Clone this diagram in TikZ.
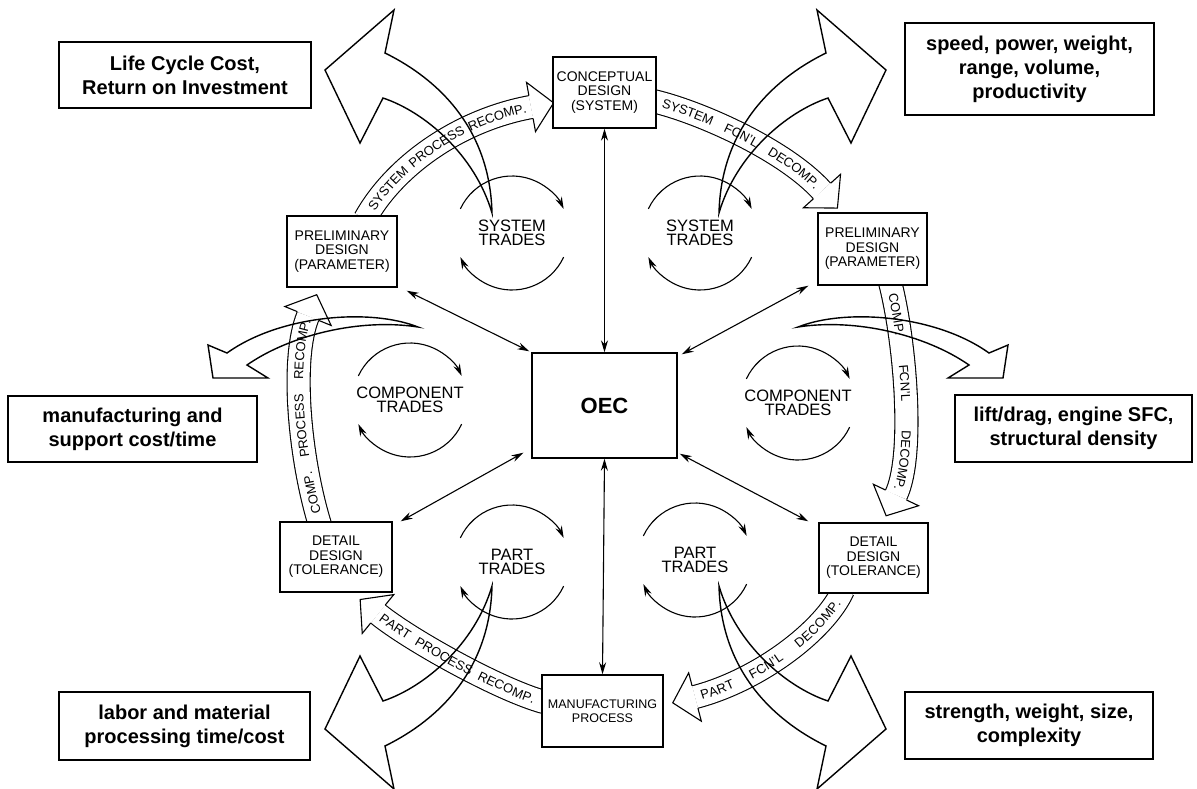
\documentclass[tikz,border=0pt]{standalone}
\usepackage{fontspec}
\setmainfont{Liberation Sans}
\usetikzlibrary{arrows.meta,decorations.markings,decorations.text}
\newcommand\bandfont{\fontsize{13}{13}\selectfont}
% fat curved arrow from the upper left trade circle to its result box
\newcommand\cornerswoosh{%
  \draw[swoosh] (492,213) .. controls (490,130) and (440,80) .. (385,53)
    -- (394,10) -- (325,70) -- (360,143) -- (383,98)
    .. controls (425,112) and (475,155) .. (492,213) -- cycle;}
% fat curved arrow from the left component circle to its result box
\newcommand\sideswoosh{%
  \draw[swoosh] (418,327) .. controls (370,308) and (280,315) .. (227,353)
    -- (208,345) -- (213,378) -- (268,378) -- (247,365)
    .. controls (290,335) and (360,318) .. (418,327) -- cycle;}
\begin{document}
\begin{tikzpicture}[x=1pt, y=-1pt,
  outerbox/.style={draw, line width=1.4pt, fill=white, align=center, inner sep=0pt,
     font=\fontsize{20}{24}\selectfont\bfseries},
  procbox/.style={draw, line width=1.4pt, fill=white, align=center, inner sep=0pt,
     font=\fontsize{14}{14.5}\selectfont},
  tradelabel/.style={align=center, inner sep=0pt, font=\fontsize{16.5}{14}\selectfont},
  link/.style={{Stealth[length=12pt,width=7pt]}-{Stealth[length=12pt,width=7pt]}, line width=1.1pt},
  tradearc/.style={-{Stealth[length=12pt,width=7pt]}, line width=1.1pt},
  band/.style={line width=1.1pt, double=white, double distance=22pt},
  bandhead/.style={decorate, decoration={markings, mark=at position 1 with {
      \draw[line width=1.1pt, line join=miter, fill=white]
        (0pt,11.55pt) -- (0pt,25pt) -- (23pt,0pt) -- (0pt,-25pt) -- (0pt,-11.55pt);}}},
  bandtext/.style n args={3}{decorate, decoration={text along path, text={|\bandfont|#1},
      text align={fit to path stretching spaces, left indent=#2, right indent=#3},
      raise=-4.6pt}},
  swoosh/.style={line width=1.4pt, line join=miter},
]
\useasboundingbox (0,0) rectangle (1197,788);

% ---- band end points and controls ----
\coordinate (b1s) at (365,219); \coordinate (b1a) at (395,165); \coordinate (b1b) at (460,120); \coordinate (b1e) at (531,107);
\coordinate (b2s) at (653,101); \coordinate (b2a) at (700,112); \coordinate (b2b) at (785,150); \coordinate (b2e) at (822,191);
\coordinate (b3s) at (890,282); \coordinate (b3a) at (905,340); \coordinate (b3b) at (915,455); \coordinate (b3e) at (896,495);
\coordinate (b4s) at (843,590); \coordinate (b4a) at (825,630); \coordinate (b4b) at (760,680); \coordinate (b4e) at (695,697);
\coordinate (b5s) at (544,702); \coordinate (b5a) at (500,690); \coordinate (b5b) at (410,640); \coordinate (b5e) at (378,614);
\coordinate (b6s) at (320,525); \coordinate (b6a) at (300,460); \coordinate (b6b) at (290,360); \coordinate (b6e) at (308,316);

% ---- hollow process bands ----
\foreach \b in {b1,b2,b3,b4,b5,b6} {
  \draw[band] (\b s) .. controls (\b a) and (\b b) .. (\b e);
  \path[bandhead] (\b s) .. controls (\b a) and (\b b) .. (\b e);
}
\path[bandtext={SYSTEM PROCESS RECOMP.}{12pt}{5pt}] (b1s) .. controls (b1a) and (b1b) .. (b1e);
\path[bandtext={SYSTEM FCN'L DECOMP.}{10pt}{6pt}] (b2s) .. controls (b2a) and (b2b) .. (b2e);
\path[bandtext={COMP. FCN'L DECOMP.}{12pt}{5pt}] (b3s) .. controls (b3a) and (b3b) .. (b3e);
\path[bandtext={PART FCN'L DECOMP.}{6pt}{12pt}] (b4e) .. controls (b4b) and (b4a) .. (b4s);
\path[bandtext={PART PROCESS RECOMP.}{4pt}{10pt}] (b5e) .. controls (b5b) and (b5a) .. (b5s);
\path[bandtext={COMP. PROCESS RECOMP.}{12pt}{4pt}] (b6s) .. controls (b6a) and (b6b) .. (b6e);

% ---- fat result arrows ----
\cornerswoosh
\begin{scope}[shift={(1211,0)}, xscale=-1] \cornerswoosh \end{scope}
\begin{scope}[shift={(0,799)}, yscale=-1] \cornerswoosh \end{scope}
\begin{scope}[shift={(1211,799)}, xscale=-1, yscale=-1] \cornerswoosh \end{scope}
\sideswoosh
\begin{scope}[shift={(1216,0)}, xscale=-1] \sideswoosh \end{scope}

% ---- result boxes ----
\node[outerbox, minimum width=252pt, minimum height=66pt] (lcc) at (185,75) {Life Cycle Cost,\\Return on Investment};
\node[outerbox, minimum width=249pt, minimum height=92pt] (perf) at (1029.5,69) {speed, power, weight,\\range, volume,\\productivity};
\node[outerbox, minimum width=249pt, minimum height=66pt] (msup) at (132.5,429) {manufacturing and\\support cost/time};
\node[outerbox, minimum width=237pt, minimum height=67pt] (lift) at (1073.5,428.5) {lift/drag, engine SFC,\\structural density};
\node[outerbox, minimum width=251pt, minimum height=68pt] (labor) at (184.5,726) {labor and material\\processing time/cost};
\node[outerbox, minimum width=248pt, minimum height=67pt] (str) at (1029,725.5) {strength, weight, size,\\complexity};

% ---- design stage boxes ----
\node[procbox, minimum width=103pt, minimum height=71pt] (concept) at (604.5,92.5) {CONCEPTUAL\\DESIGN\\(SYSTEM)};
\node[procbox, minimum width=110pt, minimum height=71pt] (pleft) at (342,251.5) {PRELIMINARY\\DESIGN\\(PARAMETER)};
\node[procbox, minimum width=109pt, minimum height=72pt] (pright) at (872.5,249) {PRELIMINARY\\DESIGN\\(PARAMETER)};
\node[procbox, minimum width=112pt, minimum height=70pt] (dleft) at (336,557) {DETAIL\\DESIGN\\(TOLERANCE)};
\node[procbox, minimum width=109pt, minimum height=70pt] (dright) at (873.5,558) {DETAIL\\DESIGN\\(TOLERANCE)};
\node[procbox, minimum width=121pt, minimum height=72pt, font=\fontsize{12.5}{14}\selectfont] (manuf) at (602.5,711) {MANUFACTURING\\PROCESS};
\node[procbox, minimum width=145pt, minimum height=105pt, font=\fontsize{22}{22}\selectfont\bfseries] (oec) at (604.5,405.5) {OEC};

% ---- trade circles ----
\foreach \n/\x/\y/\t in {tsl/512/233/SYSTEM, tsr/700/233/SYSTEM, tcl/410/400/COMPONENT,
                         tcr/798/403/COMPONENT, tpl/512/562/PART, tpr/695/560/PART} {
  \node[tradelabel] (\n) at (\x,\y) {\t\\TRADES};
  \draw[tradearc] (\x,\y) ++(-155:57) arc[start angle=-155, end angle=-25, radius=57];
  \draw[tradearc] (\x,\y) ++(25:57) arc[start angle=25, end angle=155, radius=57];
}

% ---- links to the OEC ----
\draw[link] (concept.south) -- (oec.north);
\draw[link] (oec.south) -- (manuf.north);
\draw[link] ([shift={(9,3)}]pleft.south east) -- ([shift={(-2,-1)}]oec.north west);
\draw[link] ([shift={(-9,0)}]pright.south west) -- ([shift={(4,2)}]oec.north east);
\draw[link] ([shift={(8,0)}]dleft.north east) -- ([shift={(-8,-6)}]oec.south west);
\draw[link] ([shift={(-10,-1)}]dright.north west) -- ([shift={(2,-5)}]oec.south east);
\end{tikzpicture}
\end{document}
